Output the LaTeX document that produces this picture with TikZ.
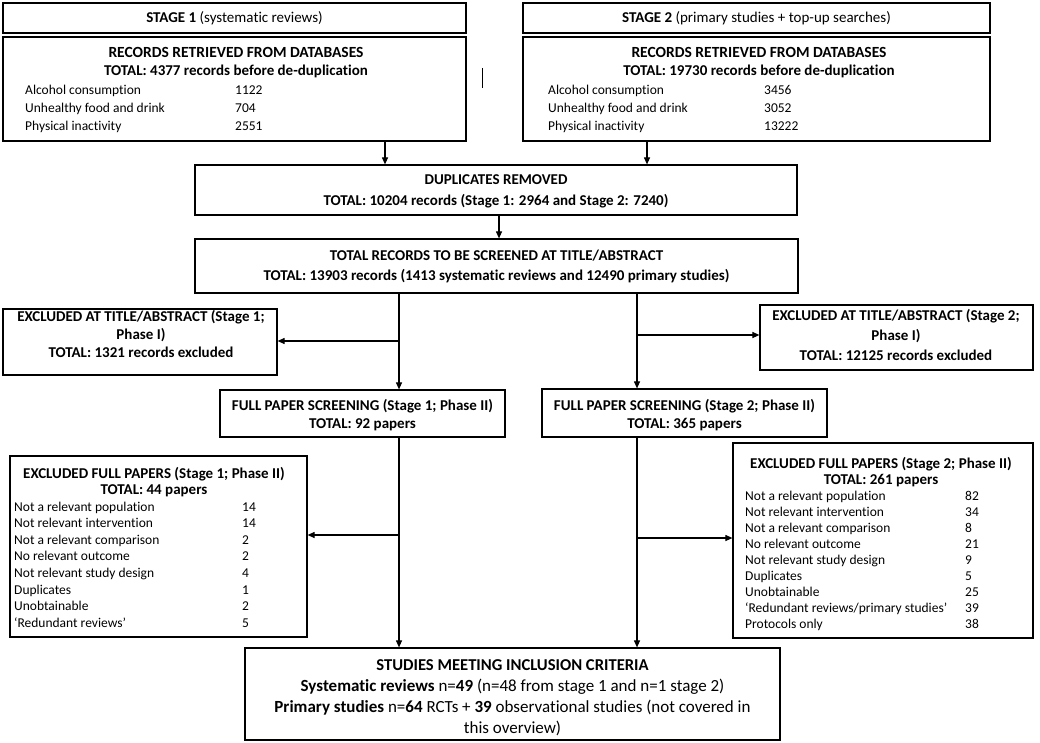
\documentclass[tikz,border=0pt]{standalone}
\usepackage{fontspec}
\setmainfont{Carlito}[Ligatures=CommonOff]
\usetikzlibrary{arrows.meta}
\newcommand\mlines[4]{\fontsize{#1}{#2}\selectfont\begin{tabular}[t]{@{}#3@{}}#4\end{tabular}}
\begin{document}
\begin{tikzpicture}[x=1pt,y=-1pt,
  box/.style={draw, line width=1.2pt, inner sep=0pt},
  arr/.style={line width=1.1pt, -{Triangle[length=7pt,width=6pt]}},
  txt/.style={inner sep=0pt, anchor=base, font=\fontsize{15}{18}\selectfont},
  ltxt/.style={inner sep=0pt, anchor=base west, font=\fontsize{13.5}{16}\selectfont}]
\useasboundingbox (0,0) rectangle (1040,743);

% boxes
\node[box, minimum width=463pt, minimum height=30pt] (s1) at (234.5,18) {};
\node[box, minimum width=467pt, minimum height=30pt] (s2) at (756.5,18) {};
\node[box, minimum width=463pt, minimum height=104pt] (r1) at (234.5,89) {};
\node[box, minimum width=467pt, minimum height=104pt] (r2) at (756.5,89) {};
\node[box, minimum width=602pt, minimum height=50pt] (dup) at (496,190) {};
\node[box, minimum width=603pt, minimum height=54pt] (tot) at (496.5,266) {};
\node[box, minimum width=274pt, minimum height=66pt] (ex1) at (140,342) {};
\node[box, minimum width=273pt, minimum height=65pt] (ex2) at (896.5,337.5) {};
\node[box, minimum width=285pt, minimum height=47pt] (fp1) at (362.5,413.5) {};
\node[box, minimum width=285pt, minimum height=48pt] (fp2) at (684.5,413) {};
\node[box, minimum width=297pt, minimum height=181pt] (xf1) at (158.5,546.5) {};
\node[box, minimum width=300pt, minimum height=195pt] (xf2) at (883,540.5) {};
\node[box, minimum width=535pt, minimum height=92pt] (fin) at (512.5,694) {};

% texts
\node[txt] (s1t) at (234.5,23) {\textbf{STAGE 1} (systematic reviews)};
\node[txt] (s2t) at (756.5,23) {\textbf{STAGE 2} (primary studies + top-up searches)};

\node[txt] (r1h) at (236,58) {\mlines{15}{18}{c}{{\fontsize{15.5}{18}\selectfont\textbf{RECORDS RETRIEVED FROM DATABASES}}\\ \textbf{TOTAL: 4377 records before de-duplication}}};
\node[ltxt] (r1l) at (25,94.5) {\mlines{13.5}{18}{p{198pt}l}{Alcohol consumption & 1122\\ Unhealthy food and drink & 704\\ Physical inactivity & 2551}};

\node[txt] (r2h) at (759,58) {\mlines{15}{18}{c}{{\fontsize{15.5}{18}\selectfont\textbf{RECORDS RETRIEVED FROM DATABASES}}\\ \textbf{TOTAL: 19730 records before de-duplication}}};
\node[ltxt] (r2l) at (548,94.5) {\mlines{13.5}{18}{p{204pt}l}{Alcohol consumption & 3456\\ Unhealthy food and drink & 3052\\ Physical inactivity & 13222}};

\node[txt] (dupt) at (496,185) {\mlines{15}{21}{c}{\textbf{DUPLICATES REMOVED}\\ \textbf{TOTAL: 10204 records (Stage 1: 2964 and Stage 2: 7240)}}};
\node[txt] (tott) at (496.5,260) {\mlines{15}{20}{c}{\textbf{TOTAL RECORDS TO BE SCREENED AT TITLE/ABSTRACT}\\ \textbf{TOTAL: 13903 records (1413 systematic reviews and 12490 primary studies)}}};

\node[txt] (ex1t) at (141,321) {\mlines{15}{18}{c}{\textbf{EXCLUDED AT TITLE/ABSTRACT (Stage 1;}\\ \textbf{Phase I)}\\ \textbf{TOTAL: 1321 records excluded}}};
\node[txt] (ex2t) at (896,320) {\mlines{15}{20}{c}{\textbf{EXCLUDED AT TITLE/ABSTRACT (Stage 2;}\\ \textbf{Phase I)}\\ \textbf{TOTAL: 12125 records excluded}}};

\node[txt] (fp1t) at (362.5,410) {\mlines{15}{18}{c}{\textbf{FULL PAPER SCREENING (Stage 1; Phase II)}\\ \textbf{TOTAL: 92 papers}}};
\node[txt] (fp2t) at (684.5,410) {\mlines{15}{18}{c}{\textbf{FULL PAPER SCREENING (Stage 2; Phase II)}\\ \textbf{TOTAL: 365 papers}}};

\node[txt] (xf1h) at (154,478) {\mlines{15}{16.6}{c}{\textbf{EXCLUDED FULL PAPERS (Stage 1; Phase II)}\\ \textbf{TOTAL: 44 papers}}};
\node[ltxt] (xf1l) at (14,511) {\mlines{13.5}{16.6}{p{216pt}l}{Not a relevant population & 14\\ Not relevant intervention & 14\\ Not a relevant comparison & 2\\ No relevant outcome & 2\\ Not relevant study design & 4\\ Duplicates & 1\\ Unobtainable & 2\\ `Redundant reviews' & 5}};

\node[txt] (xf2h) at (881,468) {\mlines{15}{16.1}{c}{\textbf{EXCLUDED FULL PAPERS (Stage 2; Phase II)}\\ \textbf{TOTAL: 261 papers}}};
\node[ltxt] (xf2l) at (745,500) {\mlines{13.5}{16.1}{p{208pt}l}{Not a relevant population & 82\\ Not relevant intervention & 34\\ Not a relevant comparison & 8\\ No relevant outcome & 21\\ Not relevant study design & 9\\ Duplicates & 5\\ Unobtainable & 25\\ `Redundant reviews/primary studies' & 39\\ Protocols only & 38}};

\node[txt] (fint) at (512.5,670.5) {\mlines{17}{21}{c}{{\fontsize{16.6}{21}\selectfont\textbf{STUDIES MEETING INCLUSION CRITERIA}}\\ \textbf{Systematic reviews} n=\textbf{49} (n=48 from stage 1 and n=1 stage 2)\\ \textbf{Primary studies} n=\textbf{64} RCTs + \textbf{39} observational studies (not covered in\\ this overview)}};

% connectors
\coordinate (a1) at (385,0);
\coordinate (a2) at (647,0);
\coordinate (a3) at (499,0);
\coordinate (v1) at (399,0);
\coordinate (v2) at (637,0);
\draw[arr] (a1 |- r1.south) -- (a1 |- dup.north);
\draw[arr] (a2 |- r2.south) -- (a2 |- dup.north);
\draw[arr] (a3 |- dup.south) -- (a3 |- tot.north);
\draw[arr] (v1 |- tot.south) -- (v1 |- fp1.north);
\draw[arr] (v2 |- tot.south) -- (v2 |- fp2.north);
\coordinate (b1) at (399,341);
\coordinate (b2) at (637,335);
\draw[arr] (b1) -- (b1 -| ex1.east);
\draw[arr] (b2) -- (b2 -| ex2.west);
\draw[arr] (v1 |- fp1.south) -- (v1 |- fin.north);
\draw[arr] (v2 |- fp2.south) -- (v2 |- fin.north);
\coordinate (b3) at (399,535);
\coordinate (b4) at (637,538);
\draw[arr] (b3) -- (b3 -| xf1.east);
\draw[arr] (b4) -- (b4 -| xf2.west);
% stray mark
\coordinate (m1) at (482,68);
\coordinate (m2) at (482,88);
\draw[line width=1pt] (m1) -- (m2);
\end{tikzpicture}
\end{document}
